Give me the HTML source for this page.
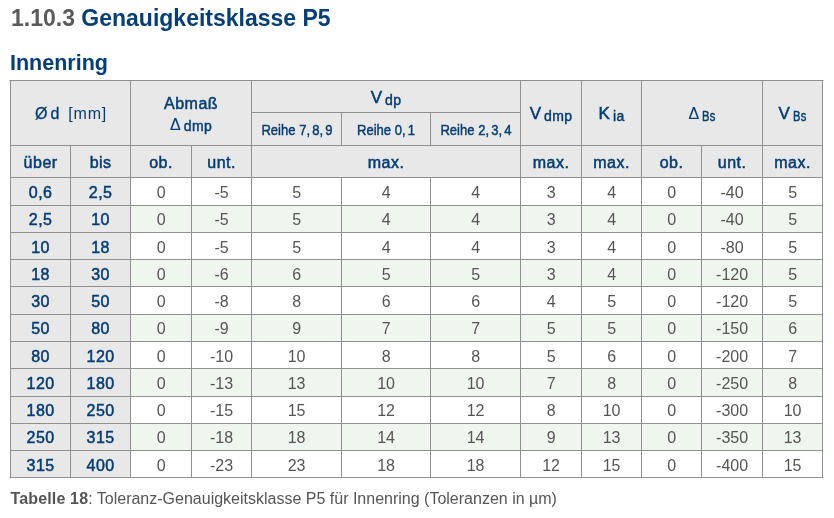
<!DOCTYPE html>
<html><head><meta charset="utf-8"><style>
html,body{margin:0;padding:0;background:#fff;width:834px;height:518px;overflow:hidden;position:relative;font-family:"Liberation Sans",sans-serif;}
.b,.l,.t,.t2{position:absolute}
#wrap{position:absolute;left:0;top:0;width:834px;height:518px;will-change:transform}
.l{background:#8f9190}
.t{width:300px;height:0;text-align:center;white-space:nowrap;line-height:0}
.t2{height:0;white-space:nowrap;line-height:0}
.t b,.t2 b{line-height:0}
.sb{font-size:14px;position:relative;top:2px;margin-left:3px;-webkit-text-stroke:0.45px #053d75;letter-spacing:0.4px}
.bs{display:inline-block;transform:scaleX(0.8);transform-origin:0 0;margin-right:-3.5px}
.md{-webkit-text-stroke:0.5px #053d75}
.t i{font-style:normal;margin-left:2.5px}
.md2{-webkit-text-stroke:0.3px #053d75}
.dl{-webkit-text-stroke:0.1px #053d75}
</style></head><body><div id="wrap">
<div class="b" style="left:10px;top:80px;width:812px;height:97px;background:#e8e8e8"></div>
<div class="b" style="left:10px;top:177px;width:120px;height:28px;background:#e8e8e8"></div>
<div class="b" style="left:130px;top:177px;width:692px;height:28px;background:#ffffff"></div>
<div class="b" style="left:10px;top:205px;width:120px;height:27px;background:#e8e8e8"></div>
<div class="b" style="left:130px;top:205px;width:692px;height:27px;background:#eff6ed"></div>
<div class="b" style="left:10px;top:232px;width:120px;height:27px;background:#e8e8e8"></div>
<div class="b" style="left:130px;top:232px;width:692px;height:27px;background:#ffffff"></div>
<div class="b" style="left:10px;top:259px;width:120px;height:27px;background:#e8e8e8"></div>
<div class="b" style="left:130px;top:259px;width:692px;height:27px;background:#eff6ed"></div>
<div class="b" style="left:10px;top:286px;width:120px;height:28px;background:#e8e8e8"></div>
<div class="b" style="left:130px;top:286px;width:692px;height:28px;background:#ffffff"></div>
<div class="b" style="left:10px;top:314px;width:120px;height:27px;background:#e8e8e8"></div>
<div class="b" style="left:130px;top:314px;width:692px;height:27px;background:#eff6ed"></div>
<div class="b" style="left:10px;top:341px;width:120px;height:27px;background:#e8e8e8"></div>
<div class="b" style="left:130px;top:341px;width:692px;height:27px;background:#ffffff"></div>
<div class="b" style="left:10px;top:368px;width:120px;height:28px;background:#e8e8e8"></div>
<div class="b" style="left:130px;top:368px;width:692px;height:28px;background:#eff6ed"></div>
<div class="b" style="left:10px;top:396px;width:120px;height:27px;background:#e8e8e8"></div>
<div class="b" style="left:130px;top:396px;width:692px;height:27px;background:#ffffff"></div>
<div class="b" style="left:10px;top:423px;width:120px;height:27px;background:#e8e8e8"></div>
<div class="b" style="left:130px;top:423px;width:692px;height:27px;background:#eff6ed"></div>
<div class="b" style="left:10px;top:450px;width:120px;height:27px;background:#e8e8e8"></div>
<div class="b" style="left:130px;top:450px;width:692px;height:27px;background:#ffffff"></div>
<div class="l" style="left:10px;top:80px;width:813px;height:1px"></div>
<div class="b" style="left:9px;top:80px;width:1px;height:1px;background:#c4c4c4"></div>
<div class="b" style="left:823px;top:80px;width:1px;height:1px;background:#c4c4c4"></div>
<div class="b" style="left:9px;top:477px;width:1px;height:1px;background:#c4c4c4"></div>
<div class="b" style="left:823px;top:477px;width:1px;height:1px;background:#c4c4c4"></div>
<div class="l" style="left:251px;top:112px;width:270px;height:1px"></div>
<div class="l" style="left:10px;top:145px;width:813px;height:1px"></div>
<div class="l" style="left:10px;top:177px;width:813px;height:1px"></div>
<div class="l" style="left:10px;top:205px;width:813px;height:1px"></div>
<div class="l" style="left:10px;top:232px;width:813px;height:1px"></div>
<div class="l" style="left:10px;top:259px;width:813px;height:1px"></div>
<div class="l" style="left:10px;top:286px;width:813px;height:1px"></div>
<div class="l" style="left:10px;top:314px;width:813px;height:1px"></div>
<div class="l" style="left:10px;top:341px;width:813px;height:1px"></div>
<div class="l" style="left:10px;top:368px;width:813px;height:1px"></div>
<div class="l" style="left:10px;top:396px;width:813px;height:1px"></div>
<div class="l" style="left:10px;top:423px;width:813px;height:1px"></div>
<div class="l" style="left:10px;top:450px;width:813px;height:1px"></div>
<div class="l" style="left:10px;top:477px;width:813px;height:1px"></div>
<div class="l" style="left:10px;top:80px;width:1px;height:398px"></div>
<div class="l" style="left:130px;top:80px;width:1px;height:398px"></div>
<div class="l" style="left:251px;top:80px;width:1px;height:398px"></div>
<div class="l" style="left:520px;top:80px;width:1px;height:398px"></div>
<div class="l" style="left:581px;top:80px;width:1px;height:398px"></div>
<div class="l" style="left:641px;top:80px;width:1px;height:398px"></div>
<div class="l" style="left:762px;top:80px;width:1px;height:398px"></div>
<div class="l" style="left:822px;top:80px;width:1px;height:398px"></div>
<div class="l" style="left:341px;top:112px;width:1px;height:34px"></div>
<div class="l" style="left:341px;top:177px;width:1px;height:301px"></div>
<div class="l" style="left:430px;top:112px;width:1px;height:34px"></div>
<div class="l" style="left:430px;top:177px;width:1px;height:301px"></div>
<div class="l" style="left:70px;top:145px;width:1px;height:333px"></div>
<div class="l" style="left:191px;top:145px;width:1px;height:333px"></div>
<div class="l" style="left:701px;top:145px;width:1px;height:333px"></div>
<div class="t" style="left:-79.40px;top:114.05px;font-size:16px;color:#053d75;"><span class="md2">Ø<span style="margin-left:3px">d</span></span><span style="margin-left:9px;letter-spacing:0.8px;margin-right:-0.8px">[mm]</span></div>
<div class="t" style="left:41.10px;top:104.25px;font-size:16px;color:#053d75;-webkit-text-stroke:0.5px #053d75;letter-spacing:0.5px;">Abmaß</div>
<div class="t" style="left:41.10px;top:124.95px;font-size:16px;color:#053d75;"><span class="dl">Δ</span><span class="sb" style="top:1px">dmp</span></div>
<div class="t" style="left:236.10px;top:98.11px;font-size:17px;color:#053d75;"><span class="md">V</span><span class="sb">dp</span></div>
<div class="t" style="left:146.60px;top:129.70px;font-size:15px;color:#053d75;-webkit-text-stroke:0.45px #053d75;transform:scaleX(0.87)">Reihe 7,<i>8,</i><i>9</i></div>
<div class="t" style="left:236.10px;top:129.70px;font-size:15px;color:#053d75;-webkit-text-stroke:0.45px #053d75;transform:scaleX(0.87)">Reihe 0,<i>1</i></div>
<div class="t" style="left:325.60px;top:129.70px;font-size:15px;color:#053d75;-webkit-text-stroke:0.45px #053d75;transform:scaleX(0.87)">Reihe 2,<i>3,</i><i>4</i></div>
<div class="t" style="left:401.10px;top:113.81px;font-size:17px;color:#053d75;"><span class="md">V</span><span class="sb">dmp</span></div>
<div class="t" style="left:461.60px;top:113.81px;font-size:17px;color:#053d75;"><span class="md">K</span><span class="sb" style="margin-left:3px">ia</span></div>
<div class="t" style="left:552.10px;top:114.15px;font-size:16px;color:#053d75;"><span class="dl">Δ</span><span class="sb bs">Bs</span></div>
<div class="t" style="left:642.60px;top:113.81px;font-size:17px;color:#053d75;"><span class="md">V</span><span class="sb bs">Bs</span></div>
<div class="t" style="left:-109.40px;top:163.25px;font-size:16px;color:#053d75;-webkit-text-stroke:0.5px #053d75;letter-spacing:0.5px;">über</div>
<div class="t" style="left:-49.40px;top:163.25px;font-size:16px;color:#053d75;-webkit-text-stroke:0.5px #053d75;letter-spacing:0.5px;">bis</div>
<div class="t" style="left:11.10px;top:163.25px;font-size:16px;color:#053d75;-webkit-text-stroke:0.5px #053d75;letter-spacing:0.5px;">ob.</div>
<div class="t" style="left:71.60px;top:163.25px;font-size:16px;color:#053d75;-webkit-text-stroke:0.5px #053d75;letter-spacing:0.5px;">unt.</div>
<div class="t" style="left:236.10px;top:163.25px;font-size:16px;color:#053d75;-webkit-text-stroke:0.5px #053d75;letter-spacing:0.5px;">max.</div>
<div class="t" style="left:401.10px;top:163.25px;font-size:16px;color:#053d75;-webkit-text-stroke:0.5px #053d75;letter-spacing:0.5px;">max.</div>
<div class="t" style="left:461.60px;top:163.25px;font-size:16px;color:#053d75;-webkit-text-stroke:0.5px #053d75;letter-spacing:0.5px;">max.</div>
<div class="t" style="left:521.60px;top:163.25px;font-size:16px;color:#053d75;-webkit-text-stroke:0.5px #053d75;letter-spacing:0.5px;">ob.</div>
<div class="t" style="left:582.10px;top:163.25px;font-size:16px;color:#053d75;-webkit-text-stroke:0.5px #053d75;letter-spacing:0.5px;">unt.</div>
<div class="t" style="left:642.60px;top:163.25px;font-size:16px;color:#053d75;-webkit-text-stroke:0.5px #053d75;letter-spacing:0.5px;">max.</div>
<div class="t" style="left:-109.40px;top:192.95px;font-size:16px;color:#053d75;-webkit-text-stroke:0.5px #053d75;letter-spacing:0.5px;">0,6</div>
<div class="t" style="left:-49.40px;top:192.95px;font-size:16px;color:#053d75;-webkit-text-stroke:0.5px #053d75;letter-spacing:0.5px;">2,5</div>
<div class="t" style="left:11.10px;top:192.95px;font-size:16px;color:#555555">0</div>
<div class="t" style="left:71.60px;top:192.95px;font-size:16px;color:#555555">-5</div>
<div class="t" style="left:146.60px;top:192.95px;font-size:16px;color:#555555">5</div>
<div class="t" style="left:236.10px;top:192.95px;font-size:16px;color:#555555">4</div>
<div class="t" style="left:325.60px;top:192.95px;font-size:16px;color:#555555">4</div>
<div class="t" style="left:401.10px;top:192.95px;font-size:16px;color:#555555">3</div>
<div class="t" style="left:461.60px;top:192.95px;font-size:16px;color:#555555">4</div>
<div class="t" style="left:521.60px;top:192.95px;font-size:16px;color:#555555">0</div>
<div class="t" style="left:582.10px;top:192.95px;font-size:16px;color:#555555">-40</div>
<div class="t" style="left:642.60px;top:192.95px;font-size:16px;color:#555555">5</div>
<div class="t" style="left:-109.40px;top:219.95px;font-size:16px;color:#053d75;-webkit-text-stroke:0.5px #053d75;letter-spacing:0.5px;">2,5</div>
<div class="t" style="left:-49.40px;top:219.95px;font-size:16px;color:#053d75;-webkit-text-stroke:0.5px #053d75;letter-spacing:0.5px;">10</div>
<div class="t" style="left:11.10px;top:219.95px;font-size:16px;color:#555555">0</div>
<div class="t" style="left:71.60px;top:219.95px;font-size:16px;color:#555555">-5</div>
<div class="t" style="left:146.60px;top:219.95px;font-size:16px;color:#555555">5</div>
<div class="t" style="left:236.10px;top:219.95px;font-size:16px;color:#555555">4</div>
<div class="t" style="left:325.60px;top:219.95px;font-size:16px;color:#555555">4</div>
<div class="t" style="left:401.10px;top:219.95px;font-size:16px;color:#555555">3</div>
<div class="t" style="left:461.60px;top:219.95px;font-size:16px;color:#555555">4</div>
<div class="t" style="left:521.60px;top:219.95px;font-size:16px;color:#555555">0</div>
<div class="t" style="left:582.10px;top:219.95px;font-size:16px;color:#555555">-40</div>
<div class="t" style="left:642.60px;top:219.95px;font-size:16px;color:#555555">5</div>
<div class="t" style="left:-109.40px;top:247.95px;font-size:16px;color:#053d75;-webkit-text-stroke:0.5px #053d75;letter-spacing:0.5px;">10</div>
<div class="t" style="left:-49.40px;top:247.95px;font-size:16px;color:#053d75;-webkit-text-stroke:0.5px #053d75;letter-spacing:0.5px;">18</div>
<div class="t" style="left:11.10px;top:247.95px;font-size:16px;color:#555555">0</div>
<div class="t" style="left:71.60px;top:247.95px;font-size:16px;color:#555555">-5</div>
<div class="t" style="left:146.60px;top:247.95px;font-size:16px;color:#555555">5</div>
<div class="t" style="left:236.10px;top:247.95px;font-size:16px;color:#555555">4</div>
<div class="t" style="left:325.60px;top:247.95px;font-size:16px;color:#555555">4</div>
<div class="t" style="left:401.10px;top:247.95px;font-size:16px;color:#555555">3</div>
<div class="t" style="left:461.60px;top:247.95px;font-size:16px;color:#555555">4</div>
<div class="t" style="left:521.60px;top:247.95px;font-size:16px;color:#555555">0</div>
<div class="t" style="left:582.10px;top:247.95px;font-size:16px;color:#555555">-80</div>
<div class="t" style="left:642.60px;top:247.95px;font-size:16px;color:#555555">5</div>
<div class="t" style="left:-109.40px;top:274.95px;font-size:16px;color:#053d75;-webkit-text-stroke:0.5px #053d75;letter-spacing:0.5px;">18</div>
<div class="t" style="left:-49.40px;top:274.95px;font-size:16px;color:#053d75;-webkit-text-stroke:0.5px #053d75;letter-spacing:0.5px;">30</div>
<div class="t" style="left:11.10px;top:274.95px;font-size:16px;color:#555555">0</div>
<div class="t" style="left:71.60px;top:274.95px;font-size:16px;color:#555555">-6</div>
<div class="t" style="left:146.60px;top:274.95px;font-size:16px;color:#555555">6</div>
<div class="t" style="left:236.10px;top:274.95px;font-size:16px;color:#555555">5</div>
<div class="t" style="left:325.60px;top:274.95px;font-size:16px;color:#555555">5</div>
<div class="t" style="left:401.10px;top:274.95px;font-size:16px;color:#555555">3</div>
<div class="t" style="left:461.60px;top:274.95px;font-size:16px;color:#555555">4</div>
<div class="t" style="left:521.60px;top:274.95px;font-size:16px;color:#555555">0</div>
<div class="t" style="left:582.10px;top:274.95px;font-size:16px;color:#555555">-120</div>
<div class="t" style="left:642.60px;top:274.95px;font-size:16px;color:#555555">5</div>
<div class="t" style="left:-109.40px;top:301.95px;font-size:16px;color:#053d75;-webkit-text-stroke:0.5px #053d75;letter-spacing:0.5px;">30</div>
<div class="t" style="left:-49.40px;top:301.95px;font-size:16px;color:#053d75;-webkit-text-stroke:0.5px #053d75;letter-spacing:0.5px;">50</div>
<div class="t" style="left:11.10px;top:301.95px;font-size:16px;color:#555555">0</div>
<div class="t" style="left:71.60px;top:301.95px;font-size:16px;color:#555555">-8</div>
<div class="t" style="left:146.60px;top:301.95px;font-size:16px;color:#555555">8</div>
<div class="t" style="left:236.10px;top:301.95px;font-size:16px;color:#555555">6</div>
<div class="t" style="left:325.60px;top:301.95px;font-size:16px;color:#555555">6</div>
<div class="t" style="left:401.10px;top:301.95px;font-size:16px;color:#555555">4</div>
<div class="t" style="left:461.60px;top:301.95px;font-size:16px;color:#555555">5</div>
<div class="t" style="left:521.60px;top:301.95px;font-size:16px;color:#555555">0</div>
<div class="t" style="left:582.10px;top:301.95px;font-size:16px;color:#555555">-120</div>
<div class="t" style="left:642.60px;top:301.95px;font-size:16px;color:#555555">5</div>
<div class="t" style="left:-109.40px;top:328.95px;font-size:16px;color:#053d75;-webkit-text-stroke:0.5px #053d75;letter-spacing:0.5px;">50</div>
<div class="t" style="left:-49.40px;top:328.95px;font-size:16px;color:#053d75;-webkit-text-stroke:0.5px #053d75;letter-spacing:0.5px;">80</div>
<div class="t" style="left:11.10px;top:328.95px;font-size:16px;color:#555555">0</div>
<div class="t" style="left:71.60px;top:328.95px;font-size:16px;color:#555555">-9</div>
<div class="t" style="left:146.60px;top:328.95px;font-size:16px;color:#555555">9</div>
<div class="t" style="left:236.10px;top:328.95px;font-size:16px;color:#555555">7</div>
<div class="t" style="left:325.60px;top:328.95px;font-size:16px;color:#555555">7</div>
<div class="t" style="left:401.10px;top:328.95px;font-size:16px;color:#555555">5</div>
<div class="t" style="left:461.60px;top:328.95px;font-size:16px;color:#555555">5</div>
<div class="t" style="left:521.60px;top:328.95px;font-size:16px;color:#555555">0</div>
<div class="t" style="left:582.10px;top:328.95px;font-size:16px;color:#555555">-150</div>
<div class="t" style="left:642.60px;top:328.95px;font-size:16px;color:#555555">6</div>
<div class="t" style="left:-109.40px;top:356.95px;font-size:16px;color:#053d75;-webkit-text-stroke:0.5px #053d75;letter-spacing:0.5px;">80</div>
<div class="t" style="left:-49.40px;top:356.95px;font-size:16px;color:#053d75;-webkit-text-stroke:0.5px #053d75;letter-spacing:0.5px;">120</div>
<div class="t" style="left:11.10px;top:356.95px;font-size:16px;color:#555555">0</div>
<div class="t" style="left:71.60px;top:356.95px;font-size:16px;color:#555555">-10</div>
<div class="t" style="left:146.60px;top:356.95px;font-size:16px;color:#555555">10</div>
<div class="t" style="left:236.10px;top:356.95px;font-size:16px;color:#555555">8</div>
<div class="t" style="left:325.60px;top:356.95px;font-size:16px;color:#555555">8</div>
<div class="t" style="left:401.10px;top:356.95px;font-size:16px;color:#555555">5</div>
<div class="t" style="left:461.60px;top:356.95px;font-size:16px;color:#555555">6</div>
<div class="t" style="left:521.60px;top:356.95px;font-size:16px;color:#555555">0</div>
<div class="t" style="left:582.10px;top:356.95px;font-size:16px;color:#555555">-200</div>
<div class="t" style="left:642.60px;top:356.95px;font-size:16px;color:#555555">7</div>
<div class="t" style="left:-109.40px;top:383.95px;font-size:16px;color:#053d75;-webkit-text-stroke:0.5px #053d75;letter-spacing:0.5px;">120</div>
<div class="t" style="left:-49.40px;top:383.95px;font-size:16px;color:#053d75;-webkit-text-stroke:0.5px #053d75;letter-spacing:0.5px;">180</div>
<div class="t" style="left:11.10px;top:383.95px;font-size:16px;color:#555555">0</div>
<div class="t" style="left:71.60px;top:383.95px;font-size:16px;color:#555555">-13</div>
<div class="t" style="left:146.60px;top:383.95px;font-size:16px;color:#555555">13</div>
<div class="t" style="left:236.10px;top:383.95px;font-size:16px;color:#555555">10</div>
<div class="t" style="left:325.60px;top:383.95px;font-size:16px;color:#555555">10</div>
<div class="t" style="left:401.10px;top:383.95px;font-size:16px;color:#555555">7</div>
<div class="t" style="left:461.60px;top:383.95px;font-size:16px;color:#555555">8</div>
<div class="t" style="left:521.60px;top:383.95px;font-size:16px;color:#555555">0</div>
<div class="t" style="left:582.10px;top:383.95px;font-size:16px;color:#555555">-250</div>
<div class="t" style="left:642.60px;top:383.95px;font-size:16px;color:#555555">8</div>
<div class="t" style="left:-109.40px;top:410.95px;font-size:16px;color:#053d75;-webkit-text-stroke:0.5px #053d75;letter-spacing:0.5px;">180</div>
<div class="t" style="left:-49.40px;top:410.95px;font-size:16px;color:#053d75;-webkit-text-stroke:0.5px #053d75;letter-spacing:0.5px;">250</div>
<div class="t" style="left:11.10px;top:410.95px;font-size:16px;color:#555555">0</div>
<div class="t" style="left:71.60px;top:410.95px;font-size:16px;color:#555555">-15</div>
<div class="t" style="left:146.60px;top:410.95px;font-size:16px;color:#555555">15</div>
<div class="t" style="left:236.10px;top:410.95px;font-size:16px;color:#555555">12</div>
<div class="t" style="left:325.60px;top:410.95px;font-size:16px;color:#555555">12</div>
<div class="t" style="left:401.10px;top:410.95px;font-size:16px;color:#555555">8</div>
<div class="t" style="left:461.60px;top:410.95px;font-size:16px;color:#555555">10</div>
<div class="t" style="left:521.60px;top:410.95px;font-size:16px;color:#555555">0</div>
<div class="t" style="left:582.10px;top:410.95px;font-size:16px;color:#555555">-300</div>
<div class="t" style="left:642.60px;top:410.95px;font-size:16px;color:#555555">10</div>
<div class="t" style="left:-109.40px;top:437.95px;font-size:16px;color:#053d75;-webkit-text-stroke:0.5px #053d75;letter-spacing:0.5px;">250</div>
<div class="t" style="left:-49.40px;top:437.95px;font-size:16px;color:#053d75;-webkit-text-stroke:0.5px #053d75;letter-spacing:0.5px;">315</div>
<div class="t" style="left:11.10px;top:437.95px;font-size:16px;color:#555555">0</div>
<div class="t" style="left:71.60px;top:437.95px;font-size:16px;color:#555555">-18</div>
<div class="t" style="left:146.60px;top:437.95px;font-size:16px;color:#555555">18</div>
<div class="t" style="left:236.10px;top:437.95px;font-size:16px;color:#555555">14</div>
<div class="t" style="left:325.60px;top:437.95px;font-size:16px;color:#555555">14</div>
<div class="t" style="left:401.10px;top:437.95px;font-size:16px;color:#555555">9</div>
<div class="t" style="left:461.60px;top:437.95px;font-size:16px;color:#555555">13</div>
<div class="t" style="left:521.60px;top:437.95px;font-size:16px;color:#555555">0</div>
<div class="t" style="left:582.10px;top:437.95px;font-size:16px;color:#555555">-350</div>
<div class="t" style="left:642.60px;top:437.95px;font-size:16px;color:#555555">13</div>
<div class="t" style="left:-109.40px;top:465.95px;font-size:16px;color:#053d75;-webkit-text-stroke:0.5px #053d75;letter-spacing:0.5px;">315</div>
<div class="t" style="left:-49.40px;top:465.95px;font-size:16px;color:#053d75;-webkit-text-stroke:0.5px #053d75;letter-spacing:0.5px;">400</div>
<div class="t" style="left:11.10px;top:465.95px;font-size:16px;color:#555555">0</div>
<div class="t" style="left:71.60px;top:465.95px;font-size:16px;color:#555555">-23</div>
<div class="t" style="left:146.60px;top:465.95px;font-size:16px;color:#555555">23</div>
<div class="t" style="left:236.10px;top:465.95px;font-size:16px;color:#555555">18</div>
<div class="t" style="left:325.60px;top:465.95px;font-size:16px;color:#555555">18</div>
<div class="t" style="left:401.10px;top:465.95px;font-size:16px;color:#555555">12</div>
<div class="t" style="left:461.60px;top:465.95px;font-size:16px;color:#555555">15</div>
<div class="t" style="left:521.60px;top:465.95px;font-size:16px;color:#555555">0</div>
<div class="t" style="left:582.10px;top:465.95px;font-size:16px;color:#555555">-400</div>
<div class="t" style="left:642.60px;top:465.95px;font-size:16px;color:#555555">15</div>
<div class="t2" style="left:11.00px;top:17.83px;font-size:23px;color:#053d75;font-weight:bold"><span style="color:#5a5a5a">1.10.3</span> Genauigkeitsklasse P5</div>
<div class="t2" style="left:10.00px;top:63.35px;font-size:21.5px;color:#053d75;font-weight:bold">Innenring</div>
<div class="t2" style="left:10.50px;top:499.25px;font-size:16px;color:#555"><b style="letter-spacing:0.15px">Tabelle 18</b>: Toleranz-Genauigkeitsklasse P5 für Innenring (Toleranzen in µm)</div>
</div></body></html>
